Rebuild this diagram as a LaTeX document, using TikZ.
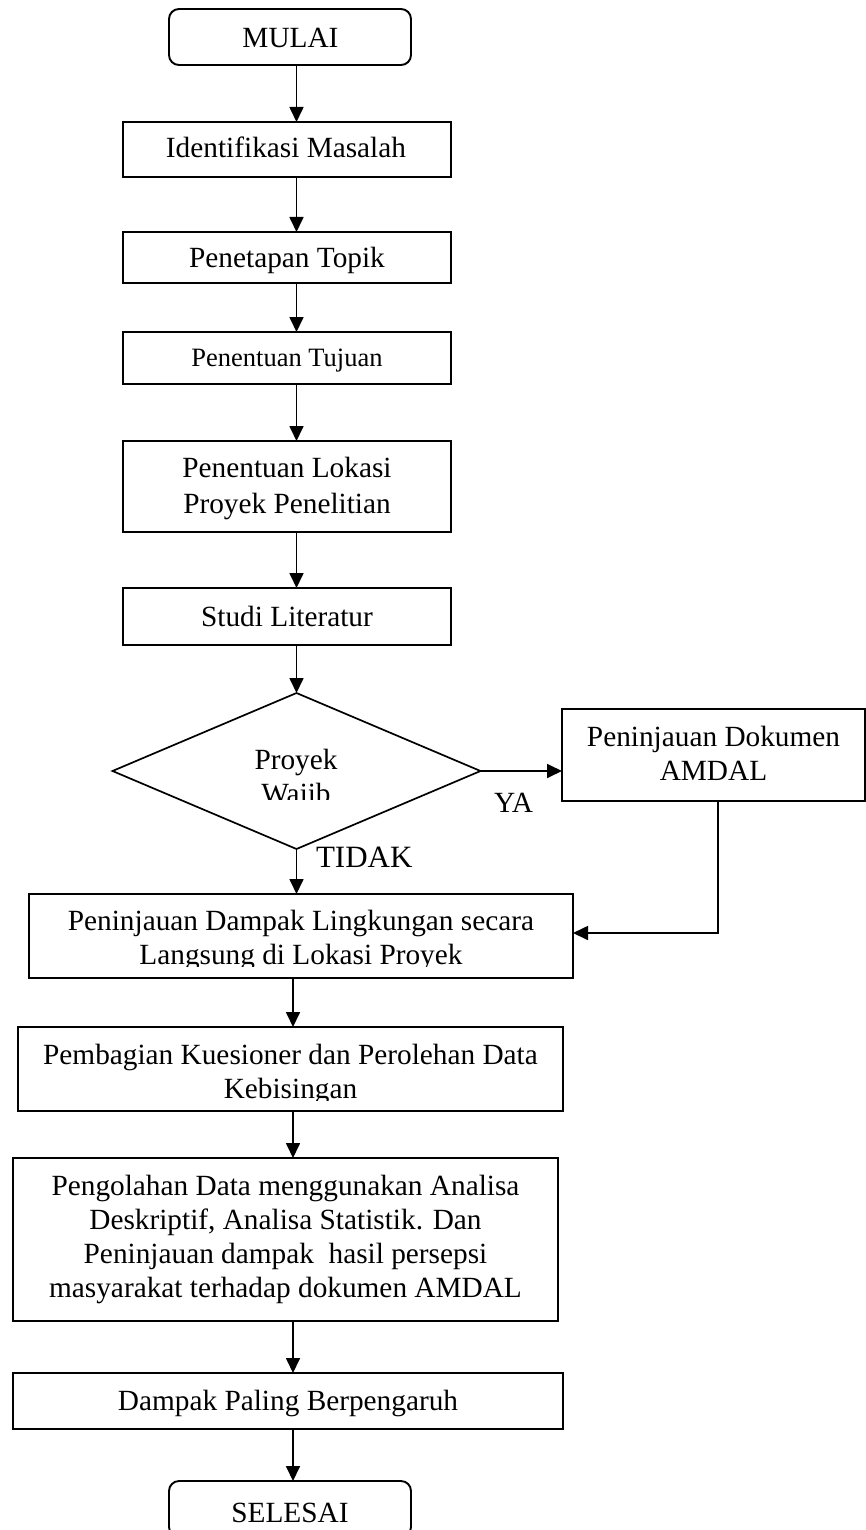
\documentclass[tikz,border=0pt]{standalone}
\usepackage{fontspec}
\setmainfont{Liberation Serif}
\usetikzlibrary{shapes.geometric,arrows.meta}
\newcommand{\mlines}[1]{\begin{tabular}[t]{@{}c@{}}#1\end{tabular}}
\begin{document}
\begin{tikzpicture}[x=1pt,y=-1pt,
  box/.style={draw, line width=1.9pt, rectangle, inner sep=0pt, outer sep=0pt},
  term/.style={box, rounded corners=10pt},
  txt/.style={inner sep=0pt, outer sep=0pt, anchor=base, font=\fontsize{29.3}{34.5}\selectfont},
  conn/.style={line width=1.7pt, -{Triangle[length=15pt,width=14pt]}},
  ]
\useasboundingbox (0,0) rectangle (866,1530);

% boxes
\node[term, minimum width=242pt, minimum height=56pt] (mulai) at (290,37) {};
\node[box, minimum width=328pt, minimum height=55pt] (b1) at (287,149.5) {};
\node[box, minimum width=328pt, minimum height=51pt] (b2) at (287,257.5) {};
\node[box, minimum width=328pt, minimum height=52pt] (b3) at (287,358) {};
\node[box, minimum width=328pt, minimum height=91pt] (b4) at (287,486.5) {};
\node[box, minimum width=328pt, minimum height=57pt] (b5) at (287,616.5) {};
\node[diamond, draw, line width=1.7pt, minimum width=368pt, minimum height=156pt, inner sep=0pt, outer sep=0pt] (d) at (296.5,771) {};
\node[box, minimum width=303pt, minimum height=92pt] (amdal) at (713.5,755) {};
\node[box, minimum width=544pt, minimum height=84pt] (b6) at (301,936) {};
\node[box, minimum width=545pt, minimum height=84pt] (b7) at (290.5,1069) {};
\node[box, minimum width=545pt, minimum height=163pt] (b8) at (285.5,1239.5) {};
\node[box, minimum width=550pt, minimum height=56pt] (b9) at (288,1401) {};
\node[term, minimum width=242pt, minimum height=56pt] (selesai) at (290,1509) {};

% texts
\node[txt] (tmulai) at (290.5,48) {MULAI};
\node[txt] (t1) at (286,158) {Identifikasi Masalah};
\node[txt] (t2) at (287,268) {Penetapan Topik};
\node[txt, font=\fontsize{26.5}{32}\selectfont] (t3) at (287,366) {Penentuan Tujuan};
\node[txt, font=\fontsize{29.3}{36}\selectfont] (t4) at (287,477) {\mlines{Penentuan Lokasi\\Proyek Penelitian}};
\node[txt] (t5) at (287,626) {Studi Literatur};
\node[txt] (td1) at (296,769) {Proyek};
\begin{scope}
  \clip (180,780) rectangle (410,799);
  \node[txt] (td2) at (296,803.5) {Wajib};
\end{scope}
\node[txt] (tamdal) at (713.5,746) {\mlines{Peninjauan Dokumen\\AMDAL}};
\node[txt, anchor=base west] (tya) at (494,812) {YA};
\node[txt, anchor=base west, font=\fontsize{31}{36}\selectfont] (ttidak) at (316,867) {TIDAK};
\begin{scope}
  \clip (29,894) rectangle (573,966);
  \node[txt] (t6) at (301,930) {\mlines{Peninjauan Dampak Lingkungan secara\\Langsung di Lokasi Proyek}};
\end{scope}
\begin{scope}
  \clip (18,1027) rectangle (563,1100);
  \node[txt] (t7) at (290.5,1064) {\mlines{Pembagian Kuesioner dan Perolehan Data\\Kebisingan}};
\end{scope}
\node[txt, font=\fontsize{29.3}{34.3}\selectfont] (t8) at (285.5,1195) {\mlines{Pengolahan Data menggunakan Analisa\\Deskriptif, Analisa Statistik. Dan\\Peninjauan dampak~ hasil persepsi\\masyarakat terhadap dokumen AMDAL}};
\node[txt] (t9) at (288,1410) {Dampak Paling Berpengaruh};
\node[txt] (tselesai) at (290,1522) {SELESAI};

% columns for connectors
\coordinate (colB) at (293,0);
\coordinate (colR) at (718,933);

% connectors
\draw[conn] (mulai.south -| d.north) -- (b1.north -| d.north);
\draw[conn] (b1.south -| d.north) -- (b2.north -| d.north);
\draw[conn] (b2.south -| d.north) -- (b3.north -| d.north);
\draw[conn] (b3.south -| d.north) -- (b4.north -| d.north);
\draw[conn] (b4.south -| d.north) -- (b5.north -| d.north);
\draw[conn] (b5.south -| d.north) -- (d.north);
\draw[conn] (d.east) -- (d.east -| amdal.west);
\draw[conn] (d.south) -- (b6.north -| d.south);
\draw[conn] (amdal.south -| colR) -- (colR) -- (colR -| b6.east);
\draw[conn] (b6.south -| colB) -- (b7.north -| colB);
\draw[conn] (b7.south -| colB) -- (b8.north -| colB);
\draw[conn] (b8.south -| colB) -- (b9.north -| colB);
\draw[conn] (b9.south -| colB) -- (selesai.north -| colB);
\end{tikzpicture}
\end{document}
